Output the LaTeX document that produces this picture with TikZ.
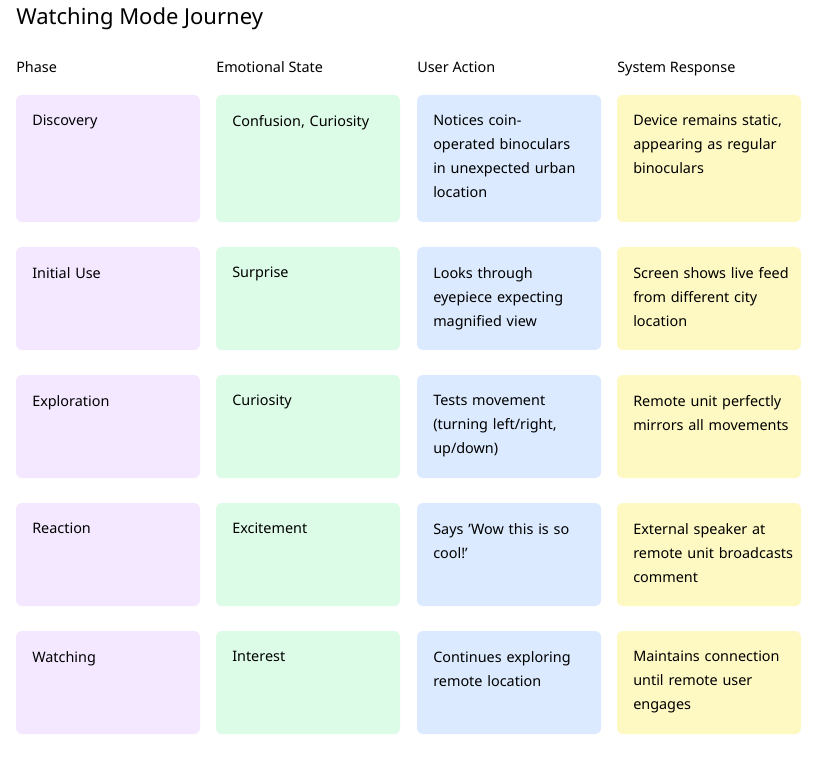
\documentclass[tikz,border=0pt]{standalone}
\usepackage{fontspec}
\setmainfont{Noto Sans}
\begin{document}
\hyphenpenalty=10000
\exhyphenpenalty=0
\begin{tikzpicture}[x=0.75pt,y=-0.75pt,
 box/.style={rounded corners=4.5pt,draw=none},
 txt/.style={anchor=north west,inner sep=0pt,text width=120pt,align=left,font=\fontsize{10.8}{18}\selectfont},
 hd/.style={anchor=base west,inner sep=0pt,font=\fontsize{10.8}{13}\selectfont\bfseries}]
\definecolor{cp}{HTML}{F3E8FF}\definecolor{cg}{HTML}{DCFCE7}
\definecolor{cb}{HTML}{DBEAFE}\definecolor{cy}{HTML}{FEF9C3}
\useasboundingbox (0,0) rectangle (816,762);
\node[anchor=base west,inner sep=0pt,font=\fontsize{16.5}{20}\selectfont\bfseries] (title) at (16,25) {Watching Mode Journey};
\node[hd] (h1) at (16,73) {Phase};
\node[hd] (h2) at (216,73) {Emotional State};
\node[hd] (h3) at (417,73) {User Action};
\node[hd] (h4) at (617,73) {System Response};
\def\row#1#2#3#4#5#6{%
 \fill[box,cp] (16,#1) rectangle (200,#2);
 \fill[box,cg] (216,#1) rectangle (400,#2);
 \fill[box,cb] (417,#1) rectangle (601,#2);
 \fill[box,cy] (617,#1) rectangle (801,#2);
 \node[txt,font=\fontsize{10.8}{18}\selectfont\bfseries] (p#1) at (32,#1+20) {#3};
 \node[txt] (e#1) at (232,#1+20) {#4};
 \node[txt] (u#1) at (433,#1+20) {#5};
 \node[txt] (s#1) at (633,#1+20) {#6};}
\row{95}{222}{Discovery}{Confusion, Curiosity}{Notices coin-operated binoculars in unexpected urban location}{Device remains static, appearing as regular binoculars}
\row{247}{350}{Initial Use}{Surprise}{Looks through eyepiece expecting magnified view}{Screen shows live feed from different city location}
\row{375}{478}{Exploration}{Curiosity}{Tests movement (turning left/right, up/down)}{Remote unit perfectly mirrors all movements}
\row{503}{606}{Reaction}{Excitement}{Says 'Wow this is so cool!'}{External speaker at remote unit broadcasts comment}
\row{631}{734}{Watching}{Interest}{Continues exploring remote location}{Maintains connection until remote user engages}
\end{tikzpicture}
\end{document}
